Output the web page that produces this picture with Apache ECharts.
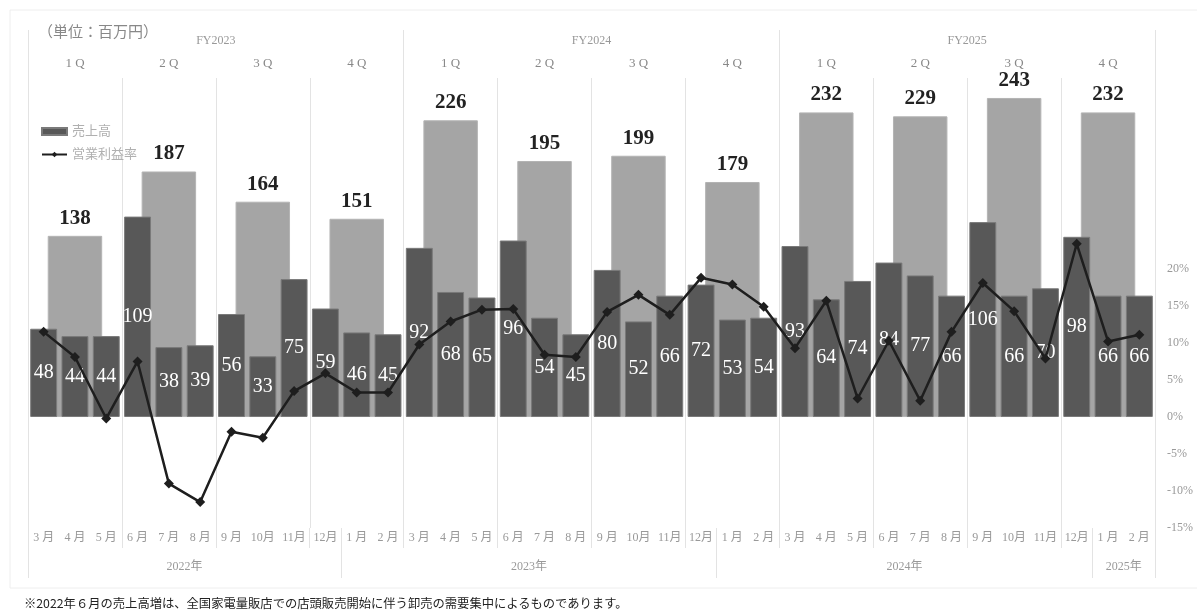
<!DOCTYPE html>
<html>
<head>
<meta charset="utf-8">
<script src="https://cdn.jsdelivr.net/npm/echarts@6/dist/echarts.min.js"></script>
<style>
  html, body { margin: 0; padding: 0; background: #fff; }
  #chart { width: 1197px; height: 610px; }
</style>
</head>
<body>
<div id="chart"></div>
<script>
// 月次ラベル (2022年3月〜2025年2月)
const months = ['3 月', '4 月', '5 月', '6 月', '7 月', '8 月', '9 月', '10月', '11月', '12月', '1 月', '2 月',
  '3 月', '4 月', '5 月', '6 月', '7 月', '8 月', '9 月', '10月', '11月', '12月', '1 月', '2 月',
  '3 月', '4 月', '5 月', '6 月', '7 月', '8 月', '9 月', '10月', '11月', '12月', '1 月', '2 月']
const quarters = ['1 Q', '2 Q', '3 Q', '4 Q', '1 Q', '2 Q', '3 Q', '4 Q', '1 Q', '2 Q', '3 Q', '4 Q']
const fiscalYears = ['FY2023', 'FY2024', 'FY2025']
// 年ラベルは月インデックス上の中心位置に置く
const yearLabels = ['2022年', '2023年', '2024年', '2025年']
const yearCenters = [5, 16, 28, 35]
const yearBounds = [0, 10, 22, 34, 36]

// 売上高 (百万円)
const monthlySales = [48, 44, 44, 109, 38, 39, 56, 33, 75, 59, 46, 45,
  92, 68, 65, 96, 54, 45, 80, 52, 66, 72, 53, 54,
  93, 64, 74, 84, 77, 66, 106, 66, 70, 98, 66, 66]
const quarterlySales = [138, 187, 164, 151, 226, 195, 199, 179, 232, 229, 243, 232]
// 営業利益率 (%)
const marginRate = [11.5, 8.1, -0.2, 7.5, -9.0, -11.5, -2.0, -2.8, 3.5, 5.9, 3.3, 3.3,
  9.8, 12.9, 14.5, 14.6, 8.4, 8.1, 14.2, 16.5, 13.8, 18.8, 17.9, 14.9,
  9.3, 15.7, 2.5, 10.3, 2.2, 11.5, 18.1, 14.3, 7.9, 23.4, 10.2, 11.1]

const serif = "'Liberation Serif', 'DejaVu Serif', 'Noto Sans CJK JP', serif"
const lineGray = '#e3e3e3'

const chart = echarts.init(document.getElementById('chart'))
chart.setOption({
  animation: false,
  textStyle: { fontFamily: serif },
  title: {
    text: '（単位：百万円）',
    left: 33,
    top: 21,
    textStyle: { fontSize: 15, fontWeight: 'normal', color: '#888', fontFamily: serif }
  },
  legend: {
    orient: 'vertical',
    left: 36,
    top: 120,
    itemWidth: 25,
    itemHeight: 7,
    itemGap: 10,
    data: [
      { name: '売上高', icon: 'rect' },
      { name: '営業利益率' }
    ],
    textStyle: { color: '#b0b0b0', fontSize: 13, fontFamily: serif }
  },
  graphic: [{
    type: 'rect',
    shape: { x: 10, y: 10, width: 1200, height: 578 },
    style: { fill: 'none', stroke: '#eeeeee', lineWidth: 1 },
    silent: true,
    z: -10
  }],
  grid: { left: 28, right: 42, top: 78, bottom: 82 },
  xAxis: [
    {
      // 月次
      type: 'category',
      data: months,
      position: 'bottom',
      axisLine: { show: false, onZero: false },
      axisTick: { show: true, interval: (i) => i % 3 === 0, length: 20, lineStyle: { color: lineGray } },
      axisLabel: { interval: 0, margin: 4, fontSize: 12, color: '#999' }
    },
    {
      // 四半期
      type: 'category',
      data: quarters,
      position: 'top',
      axisLine: { show: false, onZero: false },
      axisTick: { show: false },
      axisLabel: { interval: 0, margin: 8, fontSize: 13, color: '#888' },
      splitLine: { show: true, interval: 0, lineStyle: { color: lineGray } }
    },
    {
      // 事業年度
      type: 'category',
      data: fiscalYears,
      position: 'top',
      axisLine: { show: false, onZero: false },
      axisTick: { show: true, length: 48, lineStyle: { color: lineGray } },
      axisLabel: { interval: 0, margin: 31, fontSize: 12, color: '#999' }
    },
    {
      // 暦年
      type: 'value',
      min: 0,
      max: 36,
      position: 'bottom',
      axisLine: { show: false, onZero: false },
      splitLine: { show: false },
      axisTick: { show: true, customValues: yearBounds, length: 50, lineStyle: { color: lineGray } },
      axisLabel: {
        customValues: yearCenters,
        margin: 33,
        fontSize: 12,
        color: '#999',
        formatter: (v) => yearLabels[yearCenters.indexOf(v)]
      }
    }
  ],
  yAxis: [
    {
      // 月次売上
      type: 'value',
      min: -60.4,
      max: 184.4,
      axisLine: { show: true, onZero: false, lineStyle: { color: lineGray } },
      axisLabel: { show: false },
      axisTick: { show: false },
      splitLine: { show: false }
    },
    {
      // 四半期売上
      type: 'value',
      min: -84.5,
      max: 258.2,
      show: false
    },
    {
      // 営業利益率
      type: 'value',
      position: 'right',
      min: -15,
      max: 45.8,
      interval: 5,
      axisLine: { show: true, onZero: false, lineStyle: { color: lineGray } },
      axisTick: { show: false },
      splitLine: { show: false },
      axisLabel: {
        margin: 12,
        fontSize: 12,
        color: '#999',
        formatter: (v) => (v > 20 ? '' : v + '%')
      }
    }
  ],
  series: [
    {
      name: '四半期売上高',
      type: 'bar',
      xAxisIndex: 1,
      yAxisIndex: 1,
      barWidth: '58%',
      data: quarterlySales,
      itemStyle: { color: '#a5a5a5', borderColor: '#b4b4b4', borderWidth: 1 },
      label: {
        show: true,
        position: 'top',
        distance: 7,
        fontSize: 21,
        fontWeight: 'bold',
        color: '#222',
        fontFamily: serif
      }
    },
    {
      name: '売上高',
      type: 'bar',
      xAxisIndex: 0,
      yAxisIndex: 0,
      barWidth: '86%',
      data: monthlySales,
      itemStyle: { color: '#585858', borderColor: '#7a7a7a', borderWidth: 1 },
      label: {
        show: true,
        position: 'inside',
        fontSize: 20,
        color: '#fff',
        fontFamily: serif
      }
    },
    {
      name: '営業利益率',
      type: 'line',
      xAxisIndex: 0,
      yAxisIndex: 2,
      data: marginRate,
      symbol: 'diamond',
      symbolSize: 10,
      lineStyle: { color: '#1e1e1e', width: 2.5 },
      itemStyle: { color: '#1e1e1e' },
      z: 5
    }
  ]
})
</script>
<div style="position:absolute;left:24px;top:594px;font-family:'Noto Sans CJK JP',serif;font-size:12.3px;color:#222;white-space:nowrap;">※2022年６月の売上高増は、全国家電量販店での店頭販売開始に伴う卸売の需要集中によるものであります。</div>
</body>
</html>
